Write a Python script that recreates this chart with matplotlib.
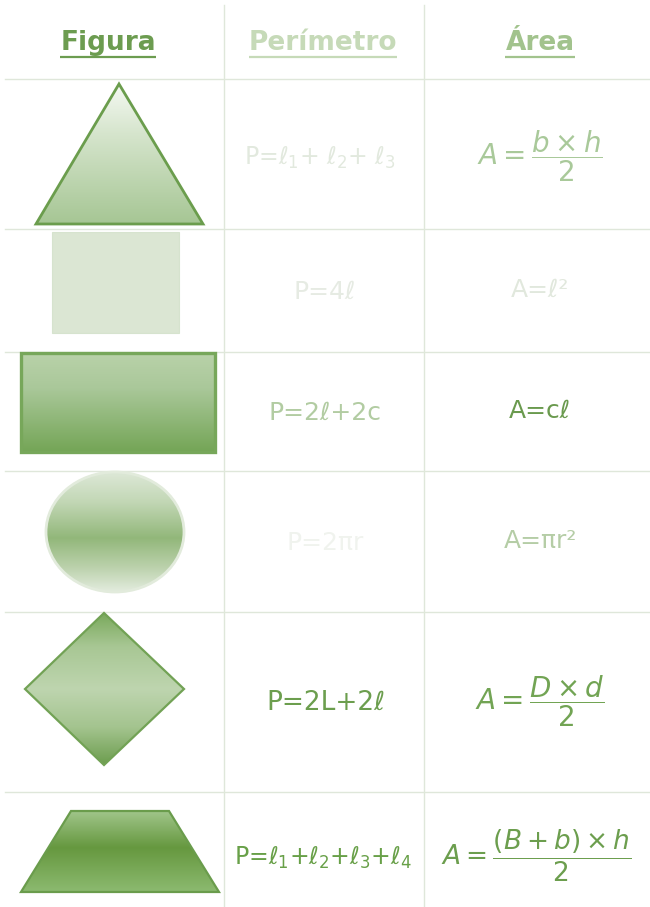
import numpy as np
import matplotlib
matplotlib.use('Agg')
import matplotlib.pyplot as plt
from matplotlib.patches import Polygon, Ellipse, Rectangle
from matplotlib.colors import LinearSegmentedColormap

plt.rcParams['font.family'] = ['DejaVu Sans']
plt.rcParams['mathtext.fontset'] = 'dejavusans'

# ---------------- content ----------------
headers = ['Figura', 'Perímetro', 'Área']
shapes = ['triangulo', 'cuadrado', 'rectangulo', 'circulo', 'rombo', 'trapecio']
perimetros = ['P=$\\ell_1$+ $\\ell_2$+ $\\ell_3$', 'P=4ℓ', 'P=2ℓ+2c', 'P=2πr',
              'P=2L+2ℓ', 'P=$\\ell_1$+$\\ell_2$+$\\ell_3$+$\\ell_4$']
areas = ['$A=\\dfrac{b\\times h}{2}$', 'A=ℓ²', 'A=cℓ', 'A=πr²',
         '$A=\\dfrac{D\\times d}{2}$', '$A=\\dfrac{(B+b)\\times h}{2}$']

# ---------------- styles ----------------
header_colors = ['#6c9c50', '#c6dab8', '#a2c38d']
perim_colors = ['#e2e9de', '#e6ebe3', '#b2cca2', '#f0f3ee', '#6c9e4e', '#68a048']
area_colors = ['#a9c99a', '#e1e8dd', '#6a9a4e', '#b5cda6', '#72a454', '#6c9e4e']
perim_sizes = [17, 18, 18, 18, 19, 17]
area_sizes = [20, 18, 18, 18, 20, 19]
grid_color = '#dfe7da'

W, H = 650, 907
col_edges = [5, 224, 424, 650]
row_edges = [5, 79, 229, 352, 471, 612, 792, 907]

fig = plt.figure(figsize=(6.5, 9.07), dpi=100)
ax = fig.add_axes([0, 0, 1, 1])
ax.axis('off')

# grid
for y in row_edges[1:-1]:
    ax.plot([col_edges[0], col_edges[-1]], [y, y], color=grid_color, lw=1.0, zorder=1)
for x in col_edges[1:-1]:
    ax.plot([x, x], [row_edges[0], row_edges[-1]], color=grid_color, lw=1.0, zorder=1)


def grad_patch(patch, stops, bbox):
    x0, x1, y0, y1 = bbox
    cmap = LinearSegmentedColormap.from_list('g', stops)
    g = np.linspace(0, 1, 256).reshape(-1, 1)
    im = ax.imshow(g, cmap=cmap, extent=(x0, x1, y1, y0), origin='upper',
                   aspect='auto', interpolation='bilinear', zorder=2)
    ax.add_patch(patch)
    im.set_clip_path(patch)


# shape geometry (pixel coords of the picture)
geom = {
    'triangulo': [(119, 84), (36, 224), (203, 224)],
    'cuadrado': (52, 232, 127, 101),
    'rectangulo': (21, 353, 194, 99),
    'circulo': (115, 532, 138, 120),
    'rombo': [(104, 613), (184, 689), (104, 765), (25, 689)],
    'trapecio': [(71, 811), (169, 811), (219, 892), (21, 892)],
}

for s in shapes:
    if s == 'triangulo':
        p = Polygon(geom[s], closed=True, facecolor='none', edgecolor='#6b9d4d',
                    lw=2.0, joinstyle='miter', zorder=3)
        grad_patch(p, [(0, '#f5f9f3'), (0.35, '#d6e5cd'), (1, '#a6c694')], (36, 203, 84, 224))
    elif s == 'cuadrado':
        x, y, w, h = geom[s]
        ax.add_patch(Rectangle((x, y), w, h, facecolor='#dbe6d3', edgecolor='#d6e3ce',
                               lw=0.8, zorder=2))
    elif s == 'rectangulo':
        x, y, w, h = geom[s]
        p = Rectangle((x, y), w, h, facecolor='none', edgecolor='#77a75a', lw=2.4, zorder=3)
        grad_patch(p, [(0, '#b9d2a9'), (0.35, '#aac89a'), (1, '#74a556')], (x, x + w, y, y + h))
    elif s == 'circulo':
        cx, cy, w, h = geom[s]
        p = Ellipse((cx, cy), w, h, facecolor='none', edgecolor='#e2ebdc', lw=2.0, zorder=3)
        grad_patch(p, [(0, '#dde8d7'), (0.25, '#c2d7b5'), (0.55, '#92b77a'),
                       (0.8, '#bcd2ad'), (1, '#e3ecde')],
                   (cx - w / 2, cx + w / 2, cy - h / 2, cy + h / 2))
    elif s == 'rombo':
        p = Polygon(geom[s], closed=True, facecolor='none', edgecolor='#72a255',
                    lw=1.6, joinstyle='miter', zorder=3)
        grad_patch(p, [(0, '#7aa95c'), (0.22, '#a8c794'), (0.5, '#bed5af'),
                       (0.75, '#a4c48f'), (1, '#6c9d4e')], (25, 184, 613, 765))
    elif s == 'trapecio':
        p = Polygon(geom[s], closed=True, facecolor='none', edgecolor='#6a9c4c',
                    lw=1.6, joinstyle='miter', zorder=3)
        grad_patch(p, [(0, '#a0c58a'), (0.45, '#66983f'), (1, '#8cba70')], (21, 219, 811, 892))

# headers
col_centers = [108, 323, 540]
header_texts = []
for hd, cx, c in zip(headers, col_centers, header_colors):
    t = ax.text(cx, 43, hd, ha='center', va='center', fontsize=19, fontweight='bold',
                color=c, zorder=4)
    header_texts.append((t, c))

# formulas
row_centers = [158, 292, 413, 543, 703, 858]
perim_x = [320, 325, 325, 325, 326, 323]
area_x = [540, 540, 540, 540, 540, 536]
for i in range(len(shapes)):
    ax.text(perim_x[i], row_centers[i], perimetros[i], ha='center', va='center',
            fontsize=perim_sizes[i], color=perim_colors[i], zorder=4)
    ax.text(area_x[i], row_centers[i] - 2, areas[i], ha='center', va='center',
            fontsize=area_sizes[i], color=area_colors[i], zorder=4)

ax.set_xlim(0, W)
ax.set_ylim(H, 0)

# underline headers
fig.canvas.draw()
r = fig.canvas.get_renderer()
inv = ax.transData.inverted()
for t, c in header_texts:
    bb = t.get_window_extent(r)
    (x0, _), (x1, _) = inv.transform([[bb.x0, bb.y0], [bb.x1, bb.y0]])
    ax.plot([x0, x1], [57, 57], color=c, lw=1.6, zorder=4, solid_capstyle='butt')

ax.set_xlim(0, W)
ax.set_ylim(H, 0)
fig.savefig('out.png', dpi=100, facecolor='white')
